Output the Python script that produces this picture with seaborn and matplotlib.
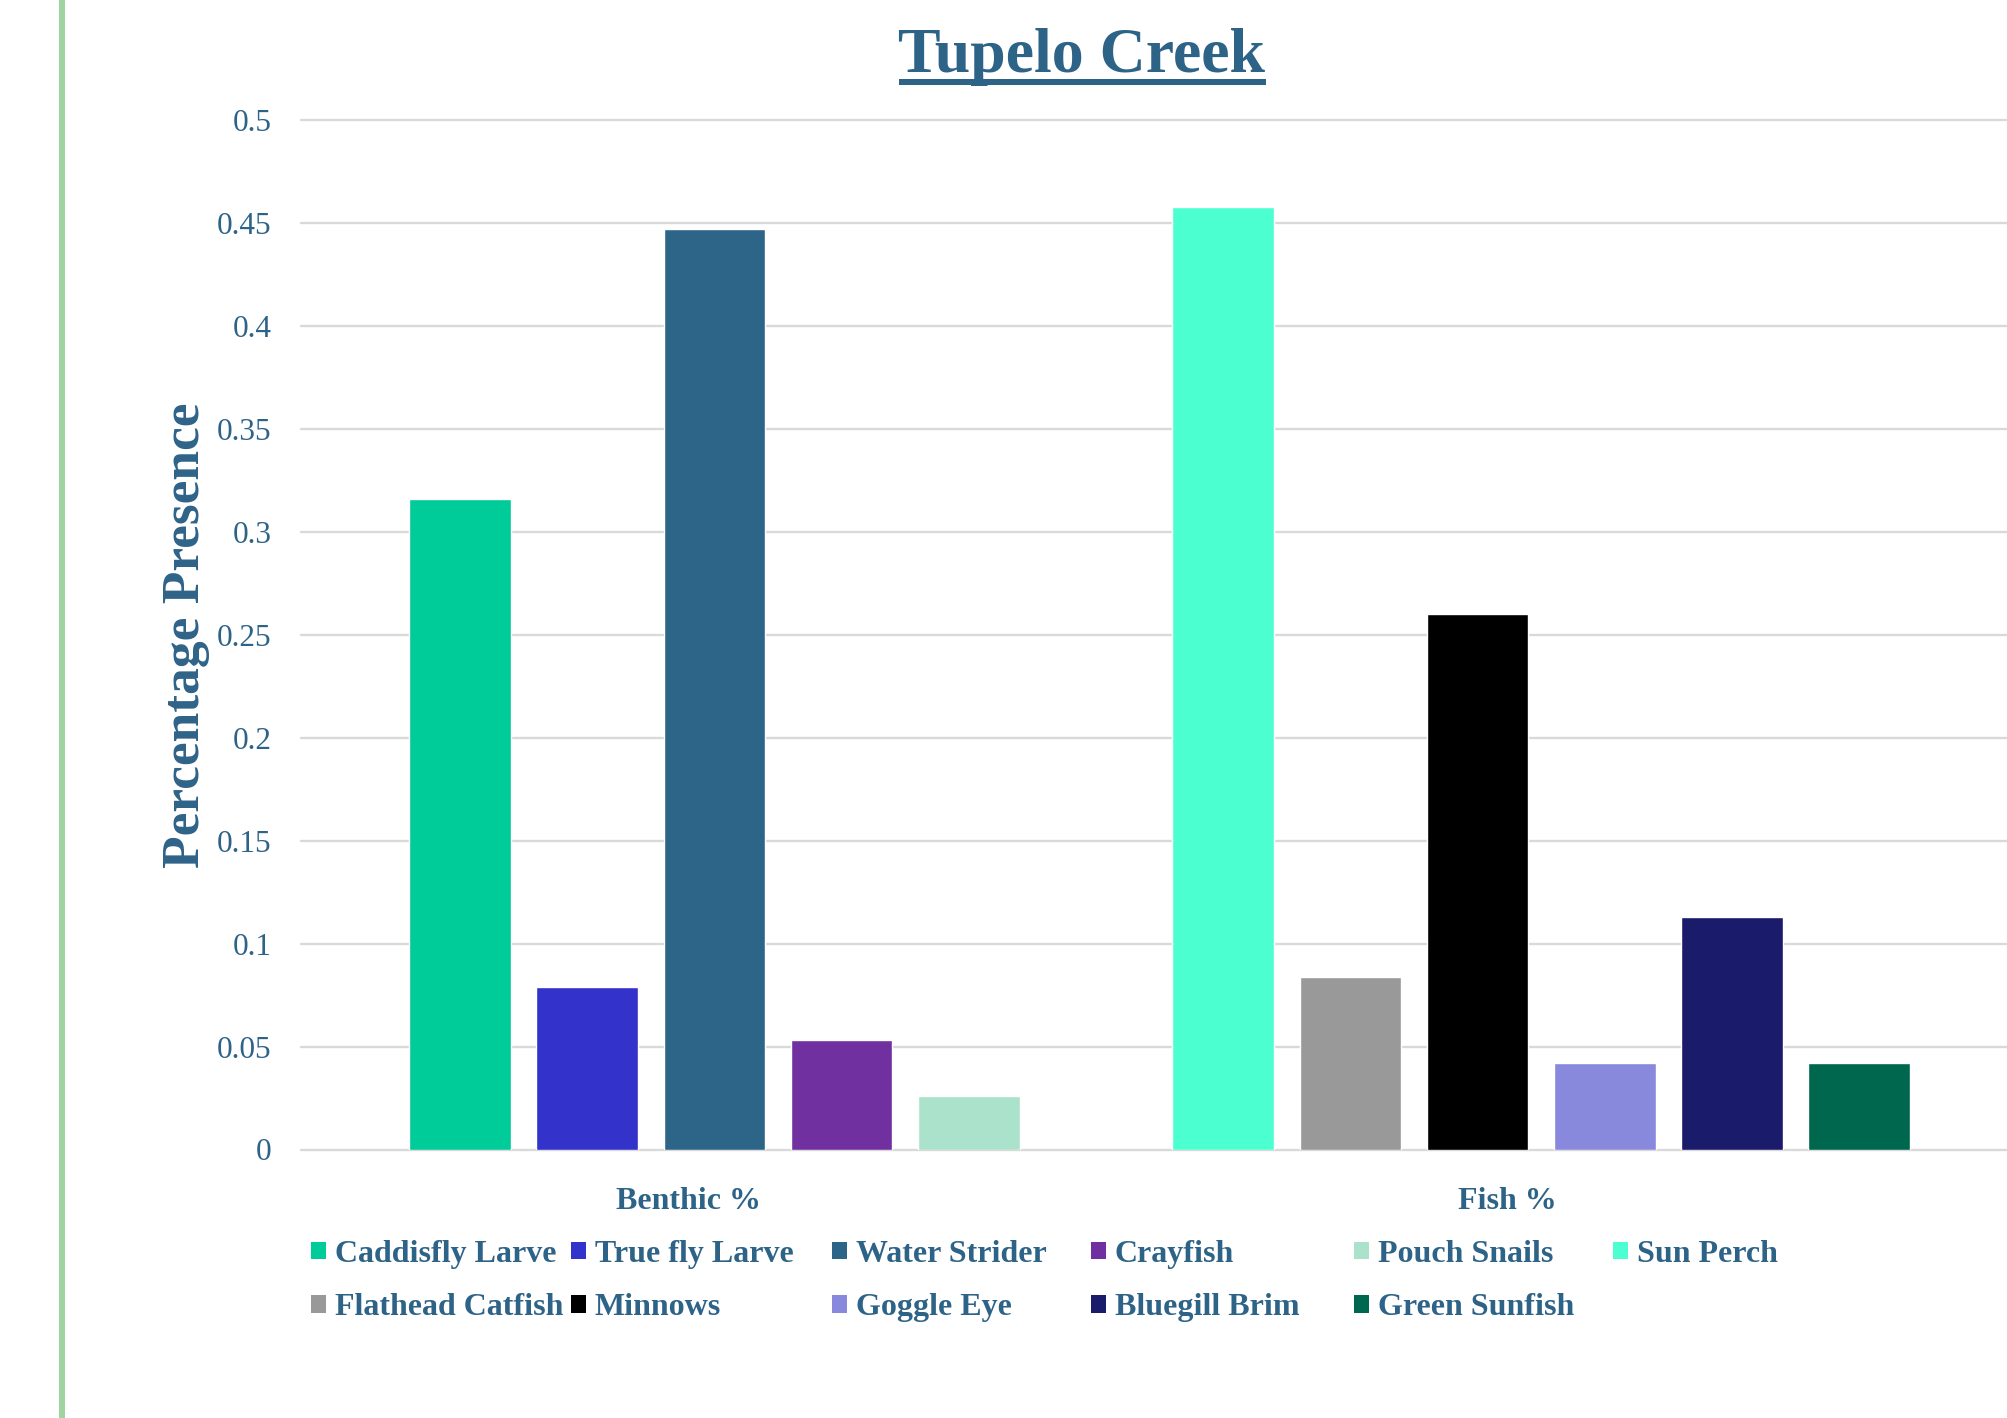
import numpy as np
import pandas as pd
import matplotlib
matplotlib.use("Agg")
import matplotlib.pyplot as plt
from matplotlib.patches import Patch
from matplotlib.lines import Line2D
import seaborn as sns

# ---- data ----
benthic_species = ["Caddisfly Larve", "True fly Larve", "Water Strider", "Crayfish", "Pouch Snails"]
benthic_values = [0.316, 0.079, 0.447, 0.053, 0.026]
fish_species = ["Sun Perch", "Flathead Catfish", "Minnows", "Goggle Eye", "Bluegill Brim", "Green Sunfish"]
fish_values = [0.458, 0.084, 0.260, 0.042, 0.113, 0.042]
group_labels = ["Benthic %", "Fish %"]
colors = ["#00CC99", "#3333CC", "#2D6589", "#7030A0", "#ABE2CB",
          "#4BFFD0", "#999999", "#000000", "#8888DD", "#1B1B6B", "#00674F"]
yticks = [0, 0.05, 0.1, 0.15, 0.2, 0.25, 0.3, 0.35, 0.4, 0.45, 0.5]
ytick_labels = ["0", "0.05", "0.1", "0.15", "0.2", "0.25", "0.3", "0.35", "0.4", "0.45", "0.5"]

TEXT = "#2E6388"
FONT = "Liberation Serif"

sns.set_theme(style="white")
plt.rcParams["font.family"] = [FONT, "DejaVu Serif"]

species = benthic_species + fish_species
values = benthic_values + fish_values
# one slot per bar, with an empty slot between the two groups
pos = list(range(len(benthic_species))) + [len(benthic_species) + 1 + i for i in range(len(fish_species))]
df = pd.DataFrame({"pos": np.array(pos, dtype=float), "value": values, "species": species})
palette = dict(zip(species, colors))

W, H = 2007, 1418
fig = plt.figure(figsize=(W / 100, H / 100), dpi=100)
fig.patch.set_facecolor("white")

slot_px = 127.2
x0_px = 460.0
left_px, right_px = 301.0, 2007.0
top_px, bottom_px = 120.3, 1149.5
ax = fig.add_axes([left_px / W, 1 - bottom_px / H, (right_px - left_px) / W, (bottom_px - top_px) / H])

sns.barplot(data=df, x="pos", y="value", hue="species", hue_order=species, palette=palette,
            native_scale=True, dodge=False, width=0.8, saturation=1, legend=False, ax=ax)

ax.set_xlim((left_px - x0_px) / slot_px, (right_px - x0_px) / slot_px)
ax.set_ylim(0, 0.5)
for s in ax.spines.values():
    s.set_visible(False)
ax.set_axisbelow(True)
ax.yaxis.grid(True, color="#D9D9D9", linewidth=1.7)
ax.xaxis.grid(False)
ax.set_yticks(yticks)
ax.set_yticklabels(ytick_labels)
ax.tick_params(axis="y", length=0, pad=21, labelsize=22.5, labelcolor=TEXT)
for gl in ax.get_ygridlines():
    gl.set_clip_on(False)

# category labels
c1 = (689 - x0_px) / slot_px
c2 = (1507 - x0_px) / slot_px
ax.set_xticks([c1, c2])
ax.set_xticklabels(group_labels, fontweight="bold")
ax.tick_params(axis="x", length=0, pad=27, labelsize=23, labelcolor=TEXT)
ax.set_xlabel("")

ax.set_ylabel("Percentage Presence", fontsize=38.5, fontweight="bold", color=TEXT)
ax.yaxis.set_label_coords((210 - left_px) / (right_px - left_px), 0.5)

# title with underline
title = fig.text(1082 / W, 1 - 72 / H, "Tupelo Creek", ha="center", va="baseline",
                 fontsize=46, fontweight="bold", color=TEXT)

# legend: one small legend per column
col_x = [311, 571, 832, 1091, 1354, 1613]
ncols = 6
for c in range(ncols):
    idx = [i for i in range(len(species)) if i % ncols == c]
    handles = [Patch(facecolor=colors[i], edgecolor="none") for i in idx]
    labels = [species[i] for i in idx]
    leg = fig.legend(handles, labels, loc="upper left",
                     bbox_to_anchor=(col_x[c] / W, 1 - 1240 / H), bbox_transform=fig.transFigure,
                     frameon=False, borderpad=0, borderaxespad=0,
                     handlelength=0.47, handleheight=0.47, handletextpad=0.28,
                     labelspacing=0.76, prop={"family": FONT, "weight": "bold", "size": 23})
    for t in leg.get_texts():
        t.set_color(TEXT)

# left green rule
fig.add_artist(Line2D([61.5 / W, 61.5 / W], [0, 1], transform=fig.transFigure,
                      color="#9FD39F", linewidth=6 * 0.72))

fig.canvas.draw()
bb = title.get_window_extent(renderer=fig.canvas.get_renderer())
uy = 1 - 82 / H
fig.add_artist(Line2D([bb.x0 / W, bb.x1 / W], [uy, uy], transform=fig.transFigure,
                      color=TEXT, linewidth=6 * 0.72, solid_capstyle="butt"))

fig.savefig("out.png", dpi=100, facecolor="white")
